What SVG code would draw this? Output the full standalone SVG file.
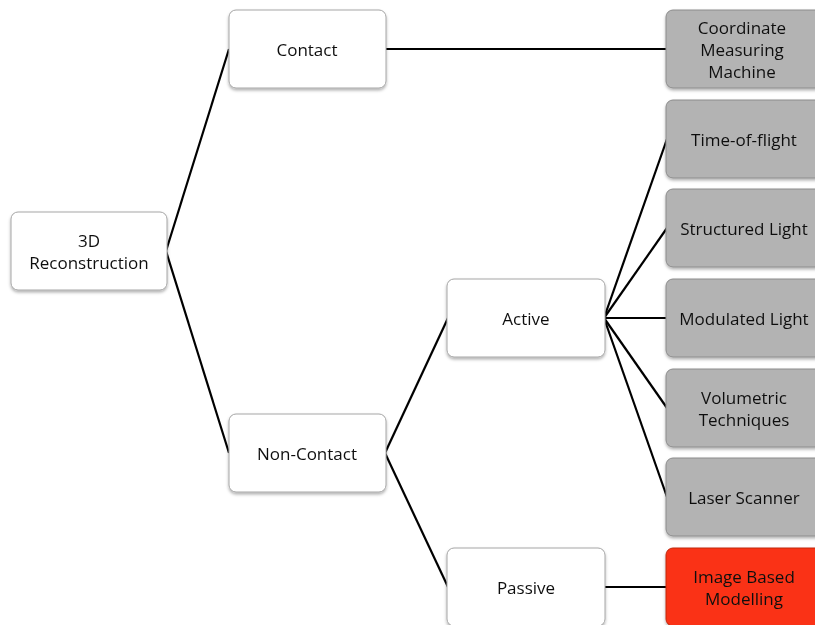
<svg xmlns="http://www.w3.org/2000/svg" width="815" height="625" viewBox="0 0 815 625">
<defs>
<filter id="sh" x="-10%" y="-10%" width="120%" height="130%">
<feDropShadow dx="0" dy="2" stdDeviation="1.5" flood-color="#000" flood-opacity="0.3"/>
</filter>
</defs>
<style>
.w{fill:#fff;stroke:#a6a6a6;stroke-width:1}
.g{fill:#b3b3b3;stroke:#8c8c8c;stroke-width:1}
.r{fill:#fa3214;stroke:#c0280f;stroke-width:1}
.n{filter:url(#sh)}
text{font-family:"Open Sans","Noto Sans","Liberation Sans",sans-serif;font-size:17px;fill:#111;text-anchor:middle;dominant-baseline:central}
.c line{stroke:#000;stroke-width:2.2}
</style>
<rect width="815" height="625" fill="#fff"/>
<g class="c" id="connectors">
<line x1="166" y1="251" x2="229" y2="49"/>
<line x1="166" y1="251" x2="229" y2="453"/>
<line x1="385" y1="49" x2="667" y2="49"/>
<line x1="385" y1="453" x2="448" y2="318"/>
<line x1="385" y1="453" x2="448" y2="587"/>
<line x1="604" y1="318" x2="667" y2="139"/>
<line x1="604" y1="318" x2="667" y2="228"/>
<line x1="604" y1="318" x2="667" y2="318"/>
<line x1="604" y1="318" x2="667" y2="408"/>
<line x1="604" y1="318" x2="667" y2="497"/>
<line x1="604" y1="587" x2="667" y2="587"/>
</g>
<g id="root" class="n"><rect class="w" x="11" y="212" width="156" height="78" rx="7"/><text x="89" y="240">3D</text><text x="89" y="262">Reconstruction</text></g>
<g id="contact" class="n"><rect class="w" x="229" y="10" width="157" height="78" rx="7"/><text x="307" y="49">Contact</text></g>
<g id="noncontact" class="n"><rect class="w" x="229" y="414" width="157" height="78" rx="7"/><text x="307" y="453">Non-Contact</text></g>
<g id="active" class="n"><rect class="w" x="447" y="279" width="158" height="78" rx="7"/><text x="526" y="318">Active</text></g>
<g id="passive" class="n"><rect class="w" x="447" y="548" width="158" height="78" rx="7"/><text x="526" y="587">Passive</text></g>
<g id="cmm" class="n"><rect class="g" x="666" y="10" width="158" height="78" rx="7"/><text x="742" y="27">Coordinate</text><text x="742" y="49">Measuring</text><text x="742" y="71">Machine</text></g>
<g id="tof" class="n"><rect class="g" x="666" y="100" width="158" height="78" rx="7"/><text x="744" y="139">Time-of-flight</text></g>
<g id="structured" class="n"><rect class="g" x="666" y="189" width="158" height="78" rx="7"/><text x="744" y="228">Structured Light</text></g>
<g id="modulated" class="n"><rect class="g" x="666" y="279" width="158" height="78" rx="7"/><text x="744" y="318">Modulated Light</text></g>
<g id="volumetric" class="n"><rect class="g" x="666" y="369" width="158" height="78" rx="7"/><text x="744" y="397">Volumetric</text><text x="744" y="419">Techniques</text></g>
<g id="laser" class="n"><rect class="g" x="666" y="458" width="158" height="78" rx="7"/><text x="744" y="497">Laser Scanner</text></g>
<g id="ibm" class="n"><rect class="r" x="666" y="548" width="158" height="78" rx="7"/><text x="744" y="576">Image Based</text><text x="744" y="598">Modelling</text></g>
</svg>
